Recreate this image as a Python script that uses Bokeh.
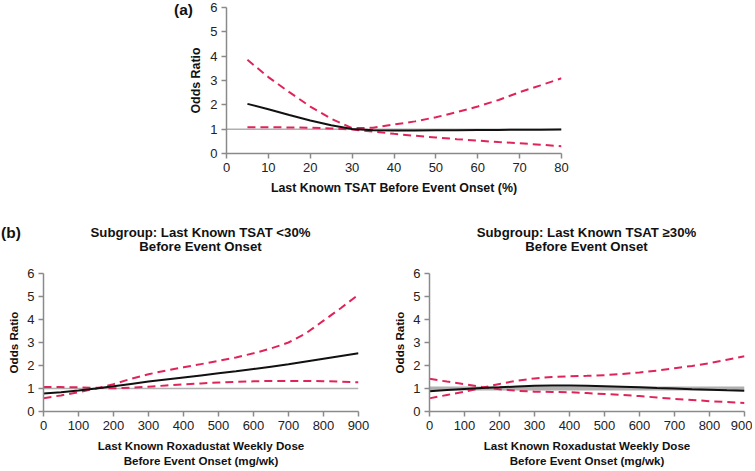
from bokeh.plotting import figure
from bokeh.layouts import column, row
from bokeh.models import Div, FixedTicker, Range1d
from bokeh.embed import file_html
from bokeh.resources import INLINE

# ---------- data ----------
tsat = [5, 10, 15, 20, 25, 30, 35, 40, 45, 50, 55, 60, 65, 70, 75, 80]
a_center = [2.04, 1.82, 1.58, 1.36, 1.16, 1.01, 0.96, 0.95, 0.95, 0.96, 0.96, 0.97, 0.97, 0.98, 0.98, 0.99]
a_upper = [3.85, 3.14, 2.52, 1.93, 1.43, 1.04, 1.06, 1.19, 1.32, 1.49, 1.7, 1.93, 2.2, 2.52, 2.8, 3.09]
a_lower = [1.08, 1.08, 1.07, 1.06, 1.03, 0.99, 0.9, 0.81, 0.73, 0.66, 0.59, 0.53, 0.47, 0.42, 0.36, 0.3]

dose = [0, 50, 100, 150, 200, 250, 300, 350, 400, 450, 500, 550, 600, 650, 700, 750, 800, 850, 900]
l_center = [0.78, 0.84, 0.91, 1.0, 1.1, 1.2, 1.3, 1.39, 1.48, 1.57, 1.66, 1.75, 1.85, 1.95, 2.05, 2.17, 2.29, 2.41, 2.53]
l_upper = [0.58, 0.7, 0.84, 1.0, 1.19, 1.42, 1.62, 1.78, 1.92, 2.06, 2.2, 2.35, 2.53, 2.74, 3.0, 3.4, 3.95, 4.5, 5.08]
l_lower = [1.07, 1.06, 1.05, 1.03, 1.01, 1.04, 1.08, 1.13, 1.18, 1.22, 1.26, 1.29, 1.31, 1.33, 1.33, 1.33, 1.32, 1.3, 1.27]

r_center = [0.88, 0.94, 0.98, 1.02, 1.05, 1.09, 1.12, 1.13, 1.13, 1.12, 1.1, 1.08, 1.05, 1.02, 1.0, 0.97, 0.95, 0.92, 0.9]
r_upper = [0.57, 0.72, 0.86, 1.03, 1.2, 1.34, 1.44, 1.5, 1.53, 1.55, 1.58, 1.63, 1.7, 1.78, 1.88, 1.98, 2.1, 2.25, 2.4]
r_lower = [1.42, 1.3, 1.19, 1.07, 0.97, 0.9, 0.86, 0.85, 0.84, 0.8, 0.76, 0.72, 0.67, 0.61, 0.55, 0.5, 0.45, 0.41, 0.37]

y_ticks = [0, 1, 2, 3, 4, 5, 6]
a_ticks = [0, 10, 20, 30, 40, 50, 60, 70, 80]
b_ticks = [0, 100, 200, 300, 400, 500, 600, 700, 800, 900]

FONT = "Liberation Sans"
CSS_FONT = "'Liberation Sans', Arial, sans-serif"
RED = "#e0245a"
AXIS = "#8a8a8a"


def style(p, xticks, xlabel_size):
    p.outline_line_color = None
    p.xgrid.grid_line_color = None
    p.ygrid.grid_line_color = None
    p.xaxis.ticker = FixedTicker(ticks=xticks)
    p.yaxis.ticker = FixedTicker(ticks=y_ticks)
    for ax in (p.xaxis[0], p.yaxis[0]):
        ax.axis_line_color = AXIS
        ax.axis_line_width = 1.5
        ax.major_tick_line_color = AXIS
        ax.major_tick_line_width = 1.5
        ax.major_tick_out = 5
        ax.major_tick_in = 0
        ax.minor_tick_line_color = None
        ax.major_label_text_font = FONT
        ax.major_label_text_font_size = "13px"
        ax.major_label_text_color = "#222222"
        ax.axis_label_text_font = FONT
        ax.axis_label_text_font_style = "bold"
        ax.axis_label_text_font_size = xlabel_size
        ax.axis_label_text_color = "#111111"
    p.yaxis.axis_label = "Odds Ratio"
    p.yaxis.major_label_standoff = 4
    p.xaxis.major_label_standoff = 4
    p.yaxis.axis_label_standoff = 4
    p.xaxis.axis_label_standoff = 6


def draw(p, x, c, u, lo, ref_w, xmin, xmax):
    p.line([xmin, xmax], [1, 1], line_color="#b0b0b0", line_width=ref_w)
    p.line(x, u, line_color=RED, line_width=2, line_dash="8 5")
    p.line(x, lo, line_color=RED, line_width=2, line_dash="8 5")
    p.line(x, c, line_color="#111111", line_width=2)


def header(width, frame_left, frame_width, line1, line2, tag=None):
    html = (f'<div style="position:relative;width:{width}px;height:50px;'
            f'font-family:{CSS_FONT};font-weight:bold;color:#111;">')
    if tag:
        html += (f'<div style="position:absolute;left:1px;top:9px;font-size:15.5px;'
                 f'line-height:18px;">{tag}</div>')
    html += (f'<div style="position:absolute;left:{frame_left}px;width:{frame_width}px;top:11px;'
             f'text-align:center;font-size:13.2px;line-height:14px;white-space:nowrap;">'
             f'{line1}<br>{line2}</div></div>')
    return Div(text=html, width=width, height=50, margin=0, styles={"overflow": "visible"})


# ---------- panel (a) ----------
div_a = Div(text=(f'<div style="width:193px;text-align:right;font-family:{CSS_FONT};'
                  f'font-weight:bold;font-size:15.5px;line-height:18px;padding-top:1px;'
                  f'color:#111;">(a)</div>'),
            width=186, height=30, margin=0, styles={"overflow": "visible"})

pa = figure(width=566, height=215, output_backend="svg", toolbar_location=None,
            x_range=Range1d(0, 80), y_range=Range1d(0, 6), margin=0,
            min_border_left=40, min_border_right=191, min_border_top=7, min_border_bottom=62)
pa.border_fill_color = None
style(pa, a_ticks, "12.4px")
pa.xaxis.axis_label = "Last Known TSAT Before Event Onset (%)"
draw(pa, tsat, a_center, a_upper, a_lower, 1.5, 0, 80)

# ---------- panel (b) left ----------
pl = figure(width=380, height=206, output_backend="svg", toolbar_location=None,
            x_range=Range1d(0, 900), y_range=Range1d(0, 6), margin=0,
            min_border_left=43, min_border_right=22, min_border_top=8, min_border_bottom=60)
style(pl, b_ticks, "11.6px")
pl.xaxis.axis_label = "Last Known Roxadustat Weekly Dose\nBefore Event Onset (mg/wk)"
draw(pl, dose, l_center, l_upper, l_lower, 1.5, 0, 900)
head_l = header(380, 43, 315, "Subgroup: Last Known TSAT &lt;30%", "Before Event Onset", tag="(b)")

# ---------- panel (b) right ----------
pr = figure(width=372, height=206, output_backend="svg", toolbar_location=None,
            x_range=Range1d(0, 900), y_range=Range1d(0, 6), margin=0,
            min_border_left=49, min_border_right=8, min_border_top=8, min_border_bottom=60)
style(pr, b_ticks, "11.6px")
pr.xaxis.axis_label = "Last Known Roxadustat Weekly Dose\nBefore Event Onset (mg/wk)"
draw(pr, dose, r_center, r_upper, r_lower, 4, 0, 900)
head_r = header(372, 49, 315, "Subgroup: Last Known TSAT \u226530%", "Before Event Onset")

layout = column(row(div_a, pa, margin=0, spacing=0),
                row(column(head_l, pl, margin=0, spacing=0),
                    column(head_r, pr, margin=0, spacing=0), margin=0, spacing=0),
                margin=0, spacing=0)
open("out.html", "w").write(file_html(layout, INLINE))
